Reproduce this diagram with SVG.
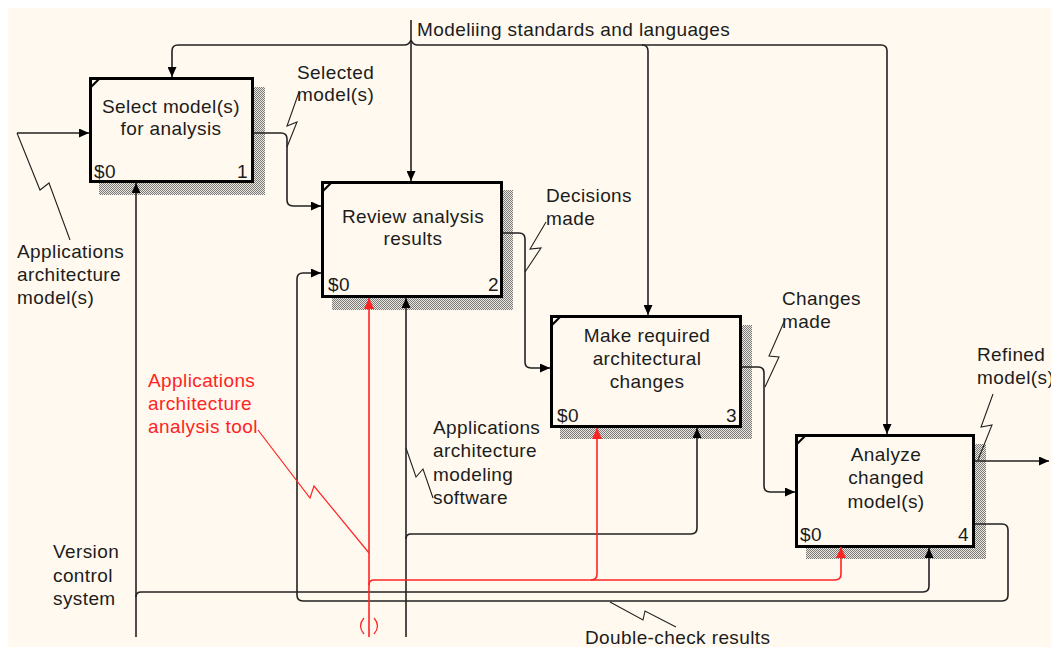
<svg xmlns="http://www.w3.org/2000/svg" width="1051" height="648" viewBox="0 0 1051 648">
  <defs>
    <style>
      text { font-family: "Liberation Sans", Arial, sans-serif; font-size: 19px; letter-spacing: 0.4px; fill: #1c1c1c; }
      .red { fill: #ff2424; }
      .mid { text-anchor: middle; }
      .end { text-anchor: end; }
      .box { fill: #fff9ef; stroke: #000; stroke-width: 3; }
      .shadow { fill: url(#hatch); }
      .corner { stroke: #000; stroke-width: 2.2; }
      .wire { fill: none; stroke: #222; stroke-width: 1.6; }
      .wire-red { fill: none; stroke: #ff2424; stroke-width: 1.6; }
      .leader { fill: none; stroke: #222; stroke-width: 1.1; }
      .leader-red { fill: none; stroke: #ff2424; stroke-width: 1.2; }
    </style>
    <pattern id="hatch" width="2" height="2" patternUnits="userSpaceOnUse">
      <rect width="2" height="2" fill="#ebe7df"/>
      <rect width="1" height="1" fill="#7a7a7a"/>
      <rect x="1" y="1" width="1" height="1" fill="#7a7a7a"/>
    </pattern>
    <marker id="arr" markerUnits="userSpaceOnUse" markerWidth="10" markerHeight="9" refX="10" refY="4.5" orient="auto">
      <path d="M0,0 L10,4.5 L0,9 z" fill="#000"/>
    </marker>
    <marker id="arr-red" markerUnits="userSpaceOnUse" markerWidth="11" markerHeight="10" refX="11" refY="5" orient="auto">
      <path d="M0,0 L11,5 L0,10 z" fill="#ff2424"/>
    </marker>
  </defs>

  <rect x="0" y="0" width="1051" height="648" fill="#ffffff"/>
  <rect x="8" y="8" width="1043" height="639" fill="#fff9ef"/>

  <!-- activity boxes -->
  <g id="node-1">
    <rect class="shadow" x="99" y="87" width="166" height="108"/>
    <rect class="box" x="90.5" y="78.5" width="162" height="103"/>
    <line class="corner" x1="90" y1="88" x2="100" y2="78"/>
    <text class="mid" x="171" y="113">Select model(s)</text>
    <text class="mid" x="171" y="135">for analysis</text>
    <text x="94" y="178">$0</text>
    <text class="end" x="248" y="178">1</text>
  </g>

  <g id="node-2">
    <rect class="shadow" x="332" y="190" width="181" height="120"/>
    <rect class="box" x="322.5" y="182.5" width="179" height="114"/>
    <line class="corner" x1="322" y1="192" x2="332" y2="182"/>
    <text class="mid" x="413" y="223">Review analysis</text>
    <text class="mid" x="413" y="245">results</text>
    <text x="328" y="291">$0</text>
    <text class="end" x="499" y="291">2</text>
  </g>

  <g id="node-3">
    <rect class="shadow" x="560" y="325" width="192" height="114"/>
    <rect class="box" x="551.5" y="316.5" width="189" height="110"/>
    <line class="corner" x1="551" y1="326" x2="561" y2="316"/>
    <text class="mid" x="647" y="342">Make required</text>
    <text class="mid" x="647" y="365">architectural</text>
    <text class="mid" x="647" y="388">changes</text>
    <text x="557" y="422">$0</text>
    <text class="end" x="737" y="422">3</text>
  </g>

  <g id="node-4">
    <rect class="shadow" x="806" y="444" width="180" height="115"/>
    <rect class="box" x="796.5" y="435.5" width="177" height="111"/>
    <line class="corner" x1="796" y1="445" x2="806" y2="435"/>
    <text class="mid" x="886" y="461">Analyze</text>
    <text class="mid" x="886" y="484">changed</text>
    <text class="mid" x="886" y="508">model(s)</text>
    <text x="800" y="541">$0</text>
    <text class="end" x="969" y="541">4</text>
  </g>

  <!-- arrows between and into the activities -->
  <g id="connectors">
    <!-- controls from the top -->
    <path class="wire" d="M411,20 L411,181" marker-end="url(#arr)"/>
    <path class="wire" d="M411,40 Q409,45 404,45 L178,45 Q172,45 172,51 L172,77" marker-end="url(#arr)"/>
    <path class="wire" d="M411,40 Q413,45 418,45 L881,45 Q887,45 887,51 L887,434" marker-end="url(#arr)"/>
    <path class="wire" d="M642,45 Q648,45 648,51 L648,315" marker-end="url(#arr)"/>

    <!-- inputs and outputs -->
    <path class="wire" d="M17,133 L89,133" marker-end="url(#arr)"/>
    <path class="wire" d="M254,133 L281,133 Q287,133 287,139 L287,200 Q287,206 293,206 L321,206" marker-end="url(#arr)"/>
    <path class="wire" d="M503,233 L519,233 Q525,233 525,239 L525,362 Q525,368 531,368 L550,368" marker-end="url(#arr)"/>
    <path class="wire" d="M742,367 L758,367 Q764,367 764,373 L764,486 Q764,492 770,492 L795,492" marker-end="url(#arr)"/>
    <path class="wire" d="M975,461 L1049,461" marker-end="url(#arr)"/>

    <!-- feedback loop back to review -->
    <path class="wire" d="M975,524 L1002,524 Q1008,524 1008,530 L1008,595 Q1008,601 1002,601 L303,601 Q297,601 297,595 L297,279 Q297,273 303,273 L321,273" marker-end="url(#arr)"/>

    <!-- mechanisms from below -->
    <path class="wire" d="M136,637 L136,183" marker-end="url(#arr)"/>
    <path class="wire" d="M136,597 Q136,592 141,592 L923,592 Q929,592 929,586 L929,548" marker-end="url(#arr)"/>
    <path class="wire" d="M406,637 L406,298" marker-end="url(#arr)"/>
    <path class="wire" d="M406,539 Q406,534 411,534 L691,534 Q697,534 697,528 L697,428" marker-end="url(#arr)"/>

    <path class="wire-red" d="M369,637 L369,298" marker-end="url(#arr-red)"/>
    <path class="wire-red" d="M369,585 Q369,580 374,580 L835,580 Q841,580 841,574 L841,547" marker-end="url(#arr-red)"/>
    <path class="wire-red" d="M591,580 Q597,580 597,574 L597,428" marker-end="url(#arr-red)"/>
    <!-- tunnel mark -->
    <path class="leader-red" d="M364,618 Q357,626 364,634 M374,618 Q381,626 374,634"/>

    <!-- label leaders -->
    <path class="leader" d="M287,147 L297,122 L287,126 L299,92"/>
    <path class="leader" d="M525,272 L541,248 L530,249 L546,222"/>
    <path class="leader" d="M765,387 L779,357 L769,356 L784,322"/>
    <path class="leader" d="M978,460 L992,425 L981,427 L993,394"/>
    <path class="leader" d="M17,133 L40,190 L49,183 L70,240"/>
    <path class="leader" d="M406,448 L416,477 L423,469 L433,498"/>
    <path class="leader" d="M610,602 L643,620 L645,611 L676,627"/>
    <path class="leader-red" d="M258,430 L310,498 L314,486 L369,553"/>
  </g>

  <!-- arrow labels -->
  <g id="labels">
    <text x="417" y="36">Modeliing standards and languages</text>
    <text x="297" y="79">Selected</text>
    <text x="297" y="101">model(s)</text>
    <text x="546" y="202">Decisions</text>
    <text x="546" y="225">made</text>
    <text x="782" y="305">Changes</text>
    <text x="782" y="328">made</text>
    <text x="977" y="361">Refined</text>
    <text x="977" y="384">model(s)</text>
    <text x="17" y="258">Applications</text>
    <text x="17" y="281">architecture</text>
    <text x="17" y="304">model(s)</text>
    <text class="red" x="148" y="387">Applications</text>
    <text class="red" x="148" y="410">architecture</text>
    <text class="red" x="148" y="433">analysis tool</text>
    <text x="433" y="434">Applications</text>
    <text x="433" y="457">architecture</text>
    <text x="433" y="481">modeling</text>
    <text x="433" y="504">software</text>
    <text x="53" y="558">Version</text>
    <text x="53" y="582">control</text>
    <text x="53" y="605">system</text>
    <text x="585" y="644">Double-check results</text>
  </g>
</svg>
